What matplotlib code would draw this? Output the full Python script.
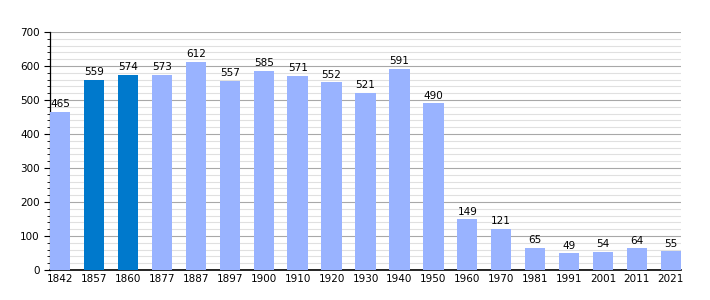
import numpy as np
import matplotlib.pyplot as plt
from matplotlib.ticker import MultipleLocator

# population by census year
years = ['1842', '1857', '1860', '1877', '1887', '1897', '1900', '1910', '1920',
         '1930', '1940', '1950', '1960', '1970', '1981', '1991', '2001', '2011', '2021']
population = [465, 559, 574, 573, 612, 557, 585, 571, 552,
              521, 591, 490, 149, 121, 65, 49, 54, 64, 55]
highlight = ['1857', '1860']

light = '#99b3ff'
dark = '#0079cc'

fig = plt.figure(figsize=(7.1, 3.0), dpi=100)
ax = fig.add_axes([50 / 710, 30 / 300, 631 / 710, 238 / 300])

x = np.arange(len(years))
colors = [dark if y in highlight else light for y in years]
ax.bar(x, population, width=0.6, color=colors, zorder=3)
for xi, v in zip(x, population):
    ax.text(xi, v + 8, str(v), ha='center', va='bottom', fontsize=7.5, zorder=4)

ax.set_xlim(-0.3, len(years) - 0.7)
ax.set_ylim(0, 700)
ax.set_xticks(x)
ax.set_xticklabels(years, fontsize=7.5)
ax.yaxis.set_major_locator(MultipleLocator(100))
ax.yaxis.set_minor_locator(MultipleLocator(20))
ax.tick_params(axis='y', labelsize=7.5, length=4, width=0.8)
ax.tick_params(axis='y', which='minor', length=2.5, width=0.6)
ax.tick_params(axis='x', length=0, pad=3)
ax.grid(axis='y', which='major', color='#a8a8a8', linewidth=0.8, zorder=0)
ax.grid(axis='y', which='minor', color='#e0e0e0', linewidth=0.8, zorder=0)
for s in ['top', 'right']:
    ax.spines[s].set_visible(False)
ax.spines['left'].set_linewidth(0.9)
ax.spines['bottom'].set_linewidth(1.2)

fig.savefig('out.png', dpi=100)
